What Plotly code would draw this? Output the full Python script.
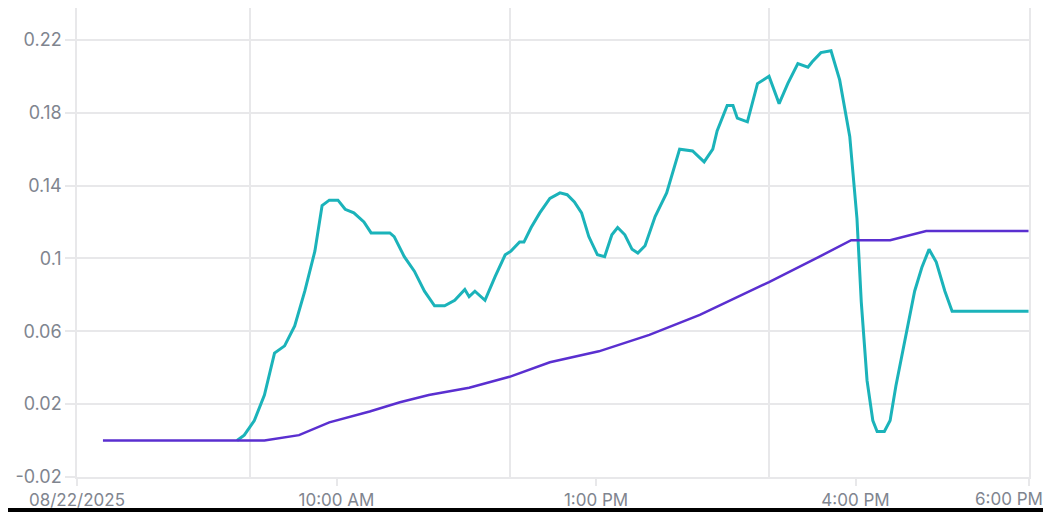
import plotly.graph_objs as go

DAY = "2025-08-22 "

# teal series
teal_times = ["08:51", "08:56", "09:03", "09:10", "09:17", "09:24", "09:31", "09:38", "09:45", "09:50",
              "09:55", "10:01", "10:06", "10:12", "10:19", "10:24", "10:37", "10:40", "10:47", "10:54",
              "11:01", "11:08", "11:15", "11:22", "11:29", "11:32", "11:36", "11:43", "11:50", "11:57",
              "12:01", "12:07", "12:10", "12:15", "12:21", "12:28", "12:35", "12:40", "12:45", "12:50",
              "12:55", "13:01", "13:06", "13:11", "13:15", "13:20", "13:25", "13:29", "13:34", "13:41",
              "13:49", "13:58", "14:07", "14:15", "14:21", "14:24", "14:31", "14:35", "14:38", "14:45",
              "14:52", "15:00", "15:07", "15:13", "15:20", "15:27", "15:30", "15:36", "15:43", "15:49",
              "15:56", "16:01", "16:04", "16:08", "16:12", "16:15", "16:20", "16:24", "16:28", "16:34",
              "16:41", "16:46", "16:51", "16:56", "17:02", "17:07", "18:00"]
teal_vals = [0.0, 0.003, 0.011, 0.025, 0.048, 0.052, 0.063, 0.082, 0.104, 0.129,
             0.132, 0.132, 0.127, 0.125, 0.120, 0.114, 0.114, 0.112, 0.101, 0.093,
             0.082, 0.074, 0.074, 0.077, 0.083, 0.079, 0.082, 0.077, 0.090, 0.102,
             0.104, 0.109, 0.109, 0.117, 0.125, 0.133, 0.136, 0.135, 0.131, 0.125,
             0.112, 0.102, 0.101, 0.113, 0.117, 0.113, 0.105, 0.103, 0.107, 0.123,
             0.136, 0.160, 0.159, 0.153, 0.160, 0.170, 0.184, 0.184, 0.177, 0.175,
             0.196, 0.200, 0.185, 0.196, 0.207, 0.205, 0.208, 0.213, 0.214, 0.198,
             0.167, 0.122, 0.076, 0.033, 0.011, 0.005, 0.005, 0.011, 0.030, 0.055,
             0.082, 0.095, 0.105, 0.098, 0.082, 0.071, 0.071]

# purple series
purple_times = ["07:18", "09:10", "09:34", "09:55", "10:23", "10:44", "11:04", "11:32", "12:00", "12:28",
                "13:02", "13:37", "14:12", "15:00", "15:35", "15:57", "16:24", "16:34", "16:49", "18:00"]
purple_vals = [0.0, 0.0, 0.003, 0.010, 0.016, 0.021, 0.025, 0.029, 0.035, 0.043,
               0.049, 0.058, 0.069, 0.087, 0.101, 0.110, 0.110, 0.112, 0.115, 0.115]

label_hours = ["07:00", "10:00", "13:00", "16:00", "18:00"]
label_text = ["08/22/2025", "10:00 AM", "1:00 PM", "4:00 PM", "6:00 PM"]
grid_hours = ["07:00", "09:00", "12:00", "15:00", "18:00"]
y_ticks = [-0.02, 0.02, 0.06, 0.1, 0.14, 0.18, 0.22]
y_text = ["-0.02", "0.02", "0.06", "0.1", "0.14", "0.18", "0.22"]

# a few seconds past 18:00 so the last tick is not dropped at the edge
x_range = [DAY + "07:00", DAY + "18:00:20"]
grid_col = "#e8e8ea"
text_col = "#80858f"

fig = go.Figure()
fig.add_trace(go.Scatter(x=[DAY + t for t in purple_times], y=purple_vals, mode="lines",
                         line=dict(color="#5a2fd0", width=2.5), xaxis="x2", hoverinfo="skip"))
fig.add_trace(go.Scatter(x=[DAY + t for t in teal_times], y=teal_vals, mode="lines",
                         line=dict(color="#1bb3ba", width=3), hoverinfo="skip"))

# last label sits left of its tick in the original (kept inside the page), so it is an annotation
tick_text_shown = label_text[:-1] + [""]

# page body adds an 8px offset, margins are set to compensate
fig.update_layout(
    width=1051, height=512,
    margin=dict(l=69, r=30, t=0, b=43),
    plot_bgcolor="white", paper_bgcolor="white",
    showlegend=False,
    font=dict(family="Inter, Open Sans, sans-serif", size=18, color=text_col),
    xaxis=dict(type="date", range=x_range, automargin=False, ticklabeloverflow="allow",
               tickvals=[DAY + t for t in label_hours], ticktext=tick_text_shown,
               tickfont=dict(size=17),
               showgrid=False, zeroline=False,
               showline=True, linecolor=grid_col, linewidth=1.5, mirror=True,
               ticks="outside", ticklen=7, tickcolor=grid_col, tickwidth=1.5),
    xaxis2=dict(type="date", range=x_range, overlaying="x", automargin=False,
                tickvals=[DAY + t for t in grid_hours], showticklabels=False,
                showgrid=True, gridcolor=grid_col, gridwidth=1.5, zeroline=False, ticks=""),
    yaxis=dict(range=[-0.02, 0.2375], tickvals=y_ticks, ticktext=y_text, automargin=False,
               showgrid=True, gridcolor=grid_col, gridwidth=1.5, zeroline=False,
               showline=True, linecolor=grid_col, linewidth=1.5, mirror=True,
               ticks="outside", ticklen=10, tickcolor=grid_col, tickwidth=1.5),
    annotations=[dict(x=DAY + label_hours[-1], xref="x", y=-0.046, yref="paper",
                      text=label_text[-1], showarrow=False, xanchor="right", yanchor="middle",
                      xshift=16, font=dict(size=17, color=text_col))],
    shapes=[dict(type="rect", xref="paper", yref="paper", x0=-0.1, x1=1.05, y0=-0.066, y1=-0.1,
                 fillcolor="black", line=dict(width=0), layer="above")],
)

fig.write_html("out.html")
